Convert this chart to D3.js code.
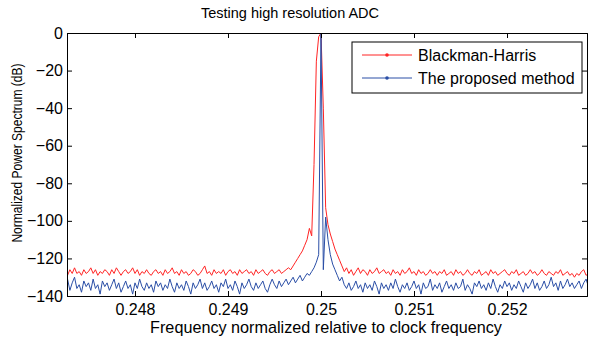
<!DOCTYPE html>
<html>
<head>
<meta charset="utf-8">
<script src="https://cdn.jsdelivr.net/npm/d3@7"></script>
<style>
  body { margin: 0; background: #fff; }
  text { font-family: "Liberation Sans", Arial, sans-serif; }
</style>
</head>
<body>
<div id="chart"></div>
<script>
// frequency grid (normalized to clock), uniform bins
const freqStart = 0.24725;
const freqStep = 0.000025;

const blackmanHarris = [
  -127,-129,-126,-128,-125,-128,-127,-129,-126,-128,
  -127,-125,-128,-126,-129,-127,-128,-126,-127,-129,
  -126,-128,-125,-127,-129,-127,-126,-128,-127,-125,
  -128,-126,-129,-127,-128,-126,-128,-129,-127,-126,
  -128,-127,-129,-126,-128,-127,-125,-128,-127,-129,
  -126,-128,-127,-129,-128,-126,-127,-129,-128,-126,
  -124,-128,-127,-129,-126,-128,-127,-128,-126,-129,
  -127,-126,-128,-127,-129,-126,-128,-127,-126,-128,
  -127,-129,-126,-128,-127,-126,-128,-129,-127,-126,
  -128,-127,-126,-128,-127,-126,-125,-126,-124,-122,
  -120,-118,-116,-113,-110,-104,-108,-70,-15,-2,
  0,-40,-93,-102,-107,-111,-115,-118,-121,-124,
  -127,-125,-128,-126,-129,-127,-125,-128,-126,-127,
  -129,-126,-128,-127,-125,-128,-127,-126,-128,-127,
  -129,-126,-128,-127,-129,-126,-128,-127,-125,-128,
  -127,-129,-126,-128,-127,-129,-128,-126,-128,-127,
  -129,-127,-128,-126,-129,-128,-127,-129,-126,-128,
  -127,-129,-128,-126,-128,-129,-127,-128,-126,-129,
  -128,-127,-129,-126,-128,-127,-129,-128,-127,-126,
  -128,-129,-127,-128,-126,-129,-128,-127,-129,-128,
  -126,-128,-127,-129,-128,-126,-128,-129,-127,-128,
  -129,-127,-128,-126,-129,-128,-127,-129,-128,-130,
  -128,-129,-127,-126,-129,-128,-127
];

const proposed = [
  -135,-131,-137,-133,-130,-136,-134,-138,-132,-135,
  -133,-137,-131,-136,-134,-139,-132,-135,-133,-137,
  -134,-131,-136,-133,-138,-135,-132,-136,-134,-139,
  -133,-136,-131,-135,-137,-133,-136,-134,-138,-132,
  -135,-133,-137,-134,-136,-131,-135,-138,-133,-136,
  -134,-137,-132,-135,-139,-133,-136,-134,-131,-136,
  -133,-137,-135,-132,-136,-134,-138,-133,-135,-131,
  -136,-134,-137,-132,-135,-139,-133,-136,-134,-131,
  -135,-137,-133,-136,-134,-132,-136,-138,-134,-131,
  -134,-136,-132,-135,-133,-131,-134,-132,-130,-133,
  -131,-129,-132,-130,-128,-129,-127,-125,-122,-118,
  0,-126,-98,-110,-118,-123,-126,-129,-132,-130,
  -134,-136,-133,-137,-135,-132,-136,-134,-138,-133,
  -136,-134,-137,-132,-135,-139,-133,-136,-134,-137,
  -133,-136,-131,-135,-138,-134,-136,-133,-137,-135,
  -132,-136,-134,-139,-133,-136,-135,-131,-137,-134,
  -136,-133,-138,-135,-132,-136,-134,-137,-133,-136,
  -135,-131,-137,-134,-136,-139,-133,-135,-132,-136,
  -134,-137,-133,-136,-131,-135,-138,-134,-136,-132,
  -135,-133,-137,-134,-136,-132,-135,-138,-133,-136,
  -134,-131,-136,-133,-137,-135,-132,-136,-134,-130,
  -135,-133,-137,-132,-136,-134,-131,-135,-133,-136,
  -134,-132,-136,-133,-131,-135,-134
];

const xTicks = [0.248, 0.249, 0.25, 0.251, 0.252];
const xTickLabels = ["0.248", "0.249", "0.25", "0.251", "0.252"];
const yTicks = [0, -20, -40, -60, -80, -100, -120, -140];

const seriesNames = ["Blackman-Harris", "The proposed method"];
const seriesColors = ["#ff2424", "#2a4ea6"];

const W = 589, H = 340;
const margin = {top: 33, right: 2, bottom: 44, left: 67};
const width = W - margin.left - margin.right,
      height = H - margin.top - margin.bottom;

const svg = d3.select("#chart").append("svg")
    .attr("width", W)
    .attr("height", H);

svg.append("text")
    .attr("x", 290)
    .attr("y", 18)
    .attr("text-anchor", "middle")
    .style("font-size", "14.5px")
    .text("Testing high resolution ADC");

const g = svg.append("g")
    .attr("transform", "translate(" + margin.left + "," + margin.top + ")");

const x = d3.scaleLinear().domain([0.247269, 0.25286]).range([0, width]);
const y = d3.scaleLinear().domain([-140, 0]).range([height, 0]);

g.append("clipPath").attr("id", "clip")
  .append("rect").attr("width", width).attr("height", height);

const line = d3.line()
    .x(function(d, i) { return x(freqStart + i * freqStep); })
    .y(function(d) { return y(d); });

[blackmanHarris, proposed].forEach(function(s, k) {
  g.append("path")
      .datum(s)
      .attr("clip-path", "url(#clip)")
      .attr("fill", "none")
      .attr("stroke", seriesColors[k])
      .attr("stroke-width", 1)
      .attr("d", line);
});

// axes, MATLAB style inward ticks
const xAxis = g.append("g")
    .attr("transform", "translate(0," + height + ")")
    .call(d3.axisBottom(x).tickValues(xTicks).tickSize(-5).tickPadding(7)
      .tickFormat(function(d, i) { return xTickLabels[i]; }));
const xTop = g.append("g")
    .call(d3.axisTop(x).tickValues(xTicks).tickSize(-5).tickFormat(""));
const yAxis = g.append("g")
    .call(d3.axisLeft(y).tickValues(yTicks).tickSize(-5).tickPadding(4));
const yRight = g.append("g")
    .attr("transform", "translate(" + width + ",0)")
    .call(d3.axisRight(y).tickValues(yTicks).tickSize(-5).tickFormat(""));

[xAxis, xTop, yAxis, yRight].forEach(function(a) {
  a.selectAll("path, line").attr("stroke", "#000");
  a.selectAll("text").style("font-size", "16px").attr("fill", "#000")
    .style("font-family", "'Liberation Sans', Arial, sans-serif");
});
xAxis.selectAll("text").attr("dy", "0.75em");

svg.append("text")
    .attr("x", 326)
    .attr("y", 333)
    .attr("text-anchor", "middle")
    .style("font-size", "16.2px")
    .text("Frequency normalized relative to clock frequency");

// condensed y label like the original
svg.append("text")
    .attr("transform", "translate(22,153)rotate(-90)scale(0.86,1)")
    .attr("text-anchor", "middle")
    .style("font-size", "14px")
    .text("Normalized Power Spectrum (dB)");

// legend
const legend = svg.append("g").attr("transform", "translate(352,42)");
legend.append("rect")
    .attr("width", 230).attr("height", 51)
    .attr("fill", "#fff").attr("stroke", "#000").attr("stroke-width", 1);
seriesNames.forEach(function(name, k) {
  const row = legend.append("g").attr("transform", "translate(0," + (13 + k * 23) + ")");
  row.append("line").attr("x1", 10).attr("x2", 60)
      .attr("stroke", seriesColors[k]).attr("stroke-width", 1);
  row.append("circle").attr("cx", 35).attr("r", 1.8).attr("fill", seriesColors[k]);
  row.append("text").attr("x", 66).attr("dy", "0.35em")
      .style("font-size", "16px").text(name);
});
</script>
</body>
</html>
